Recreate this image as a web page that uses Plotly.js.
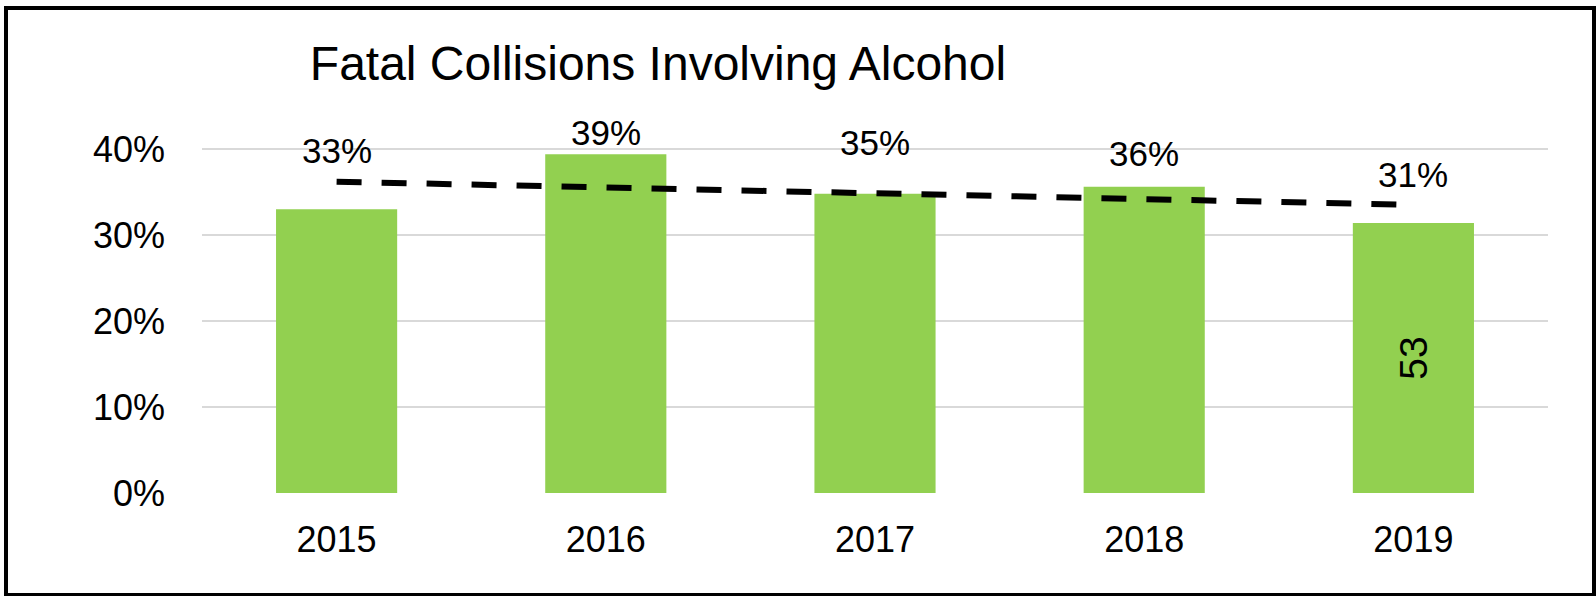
<!DOCTYPE html>
<html>
<head>
<meta charset="utf-8">
<script src="https://cdn.plot.ly/plotly-3.0.1.min.js"></script>
<style>
  html, body { margin: 0; padding: 0; background: #ffffff; }
  #chart { width: 1596px; height: 596px; }
</style>
</head>
<body>
<div id="chart"></div>
<script>
// ---- data ----
const years = ['2015', '2016', '2017', '2018', '2019'];
const shareAlcohol = [0.330, 0.394, 0.348, 0.356, 0.314];
const shareLabels = ['33%', '39%', '35%', '36%', '31%'];
const countLabels = ['', '', '', '', '53'];
const trendYears = ['2015', '2019'];
const trendValues = [0.362, 0.335];
const yTickVals = [0, 0.1, 0.2, 0.3, 0.4];
const yTickText = ['0%', '10%', '20%', '30%', '40%'];
const chartTitle = 'Fatal Collisions Involving Alcohol';

// ---- style ----
const W = 1596, H = 596;
const M = { l: 202, r: 48, t: 106, b: 103 };
const labelShift = [59, 22, 51, 33, 48];
const FONT = 'Liberation Sans, Arial, sans-serif';
const pw = W - M.l - M.r, ph = H - M.t - M.b;
const px = x => (x - M.l) / pw;
const py = y => (H - y - M.b) / ph;

const bars = {
  type: 'bar',
  x: years,
  y: shareAlcohol,
  marker: { color: '#92d050' },
  text: countLabels,
  textposition: 'inside',
  insidetextanchor: 'middle',
  textangle: -90,
  textfont: { family: FONT, size: 39, color: '#000000' },
  hoverinfo: 'x+y',
  showlegend: false
};

const trend = {
  type: 'scatter',
  mode: 'lines',
  x: trendYears,
  y: trendValues,
  line: { color: '#000000', width: 6, dash: '25px,20px' },
  hoverinfo: 'skip',
  showlegend: false
};

// category axis: annotation x given as category index
const annotations = years.map((yr, i) => ({
  x: years.indexOf(yr), y: shareAlcohol[i], xref: 'x', yref: 'y',
  text: shareLabels[i], showarrow: false,
  yanchor: 'middle', xanchor: 'center', yshift: labelShift[i],
  font: { family: FONT, size: 35, color: '#000000' }
}));

const layout = {
  width: W, height: H,
  margin: M,
  paper_bgcolor: '#ffffff',
  plot_bgcolor: '#ffffff',
  bargap: 0.55,
  title: {
    text: chartTitle,
    font: { family: FONT, size: 48, color: '#000000' },
    xref: 'container', yref: 'container',
    x: 658 / W, xanchor: 'center',
    y: 1 - 63 / H, yanchor: 'middle'
  },
  xaxis: {
    type: 'category',
    categoryorder: 'array', categoryarray: years,
    range: [-0.5, years.length - 0.5], autorange: false,
    showgrid: false, zeroline: false, showline: false,
    ticks: '',
    tickfont: { family: FONT, size: 36, color: '#000000' },
    ticklabelstandoff: 22
  },
  yaxis: {
    range: [0, 0.45], autorange: false,
    tickvals: yTickVals, ticktext: yTickText,
    showgrid: true, gridcolor: '#d9d9d9', gridwidth: 2,
    zeroline: false, showline: false, ticks: '',
    tickfont: { family: FONT, size: 36, color: '#000000' },
    ticklabelstandoff: 36
  },
  annotations: annotations,
  shapes: [{
    type: 'rect', xref: 'paper', yref: 'paper',
    x0: px(6), x1: px(1594), y0: py(595), y1: py(8),
    line: { color: '#000000', width: 4 },
    fillcolor: 'rgba(0,0,0,0)', layer: 'above'
  }]
};

Plotly.newPlot('chart', [bars, trend], layout, { displayModeBar: false, staticPlot: true });
</script>
</body>
</html>
